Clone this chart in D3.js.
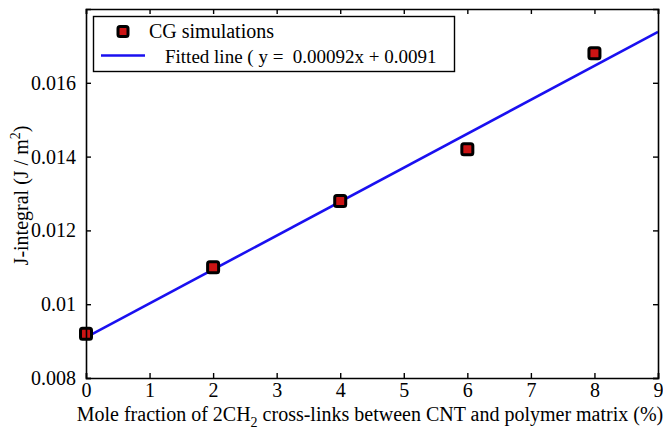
<!DOCTYPE html>
<html>
<head>
<meta charset="utf-8">
<script src="https://d3js.org/d3.v7.min.js"></script>
<style>
  body { margin: 0; background: #fff; }
  svg text { font-family: "Liberation Serif", "Times New Roman", serif; fill: #000; }
</style>
</head>
<body>
<div id="chart"></div>
<script>
// cross-link mole fraction (%) and J-integral from CG simulations
const crossLinks = [0, 2, 4, 6, 8];
const jIntegral = [0.0092, 0.011, 0.0128, 0.0142, 0.0168];

// linear fit y = slope * x + intercept
const fitSlope = 0.00092;
const fitIntercept = 0.0091;
const fitRange = [0, 9];

const xTicks = [0, 1, 2, 3, 4, 5, 6, 7, 8, 9];
const yTicks = [0.008, 0.01, 0.012, 0.014, 0.016];
const yTickLabels = ["0.008", "0.01", "0.012", "0.014", "0.016"];

const width = 663, height = 431;
const margin = {top: 9, right: 5, bottom: 53, left: 86};
const innerW = width - margin.left - margin.right;
const innerH = height - margin.top - margin.bottom;

const svg = d3.select('#chart').append('svg')
    .attr('width', width)
    .attr('height', height);

const g = svg.append('g')
    .attr('transform', `translate(${margin.left},${margin.top})`);

const x = d3.scaleLinear().domain([0, 9]).range([0, innerW]);
const y = d3.scaleLinear().domain([0.008, 0.018]).range([innerH, 0]);

// fitted line
const fitData = fitRange.map(v => ({x: v, y: fitSlope * v + fitIntercept}));
g.append('path')
    .datum(fitData)
    .attr('d', d3.line().x(d => x(d.x)).y(d => y(d.y)))
    .attr('fill', 'none')
    .attr('stroke', '#1a10f0')
    .attr('stroke-width', 2.6);

// simulation markers
g.selectAll('.pt')
    .data(crossLinks.map((v, i) => ({x: v, y: jIntegral[i]})))
    .enter().append('rect')
        .attr('class', 'pt')
        .attr('x', d => x(d.x) - 5.5)
        .attr('y', d => y(d.y) - 5.5)
        .attr('width', 11)
        .attr('height', 11)
        .attr('rx', 2)
        .attr('fill', '#cc1414')
        .attr('stroke', '#000')
        .attr('stroke-width', 3);

// axes, ticks pointing inward on all four sides
const tickLen = 5;
const bottomAxis = g.append('g')
    .attr('transform', `translate(0,${innerH})`)
    .call(d3.axisBottom(x).tickValues(xTicks).tickSize(-tickLen).tickPadding(5).tickFormat(d3.format('d')));
const topAxis = g.append('g')
    .call(d3.axisTop(x).tickValues(xTicks).tickSize(-tickLen).tickFormat(''));
const leftAxis = g.append('g')
    .call(d3.axisLeft(y).tickValues(yTicks).tickSize(-tickLen).tickPadding(10)
        .tickFormat((d, i) => yTickLabels[i]));
const rightAxis = g.append('g')
    .attr('transform', `translate(${innerW},0)`)
    .call(d3.axisRight(y).tickValues(yTicks).tickSize(-tickLen).tickFormat(''));

[bottomAxis, topAxis, leftAxis, rightAxis].forEach(a => {
    a.select('.domain').attr('stroke', '#000').attr('stroke-width', 1.6);
    a.selectAll('.tick line').attr('stroke', '#000').attr('stroke-width', 1.4);
    a.selectAll('text')
        .style('font-family', '"Liberation Serif", serif')
        .style('font-size', '20px')
        .attr('fill', '#000');
});
bottomAxis.selectAll('text').attr('dy', '0.71em');

// x axis title
const xTitle = svg.append('text')
    .attr('x', margin.left + innerW / 2 - 2)
    .attr('y', 421)
    .attr('text-anchor', 'middle')
    .style('font-size', '20px');
xTitle.append('tspan').text('Mole fraction of 2CH');
xTitle.append('tspan').attr('dy', 6).style('font-size', '14px').text('2');
xTitle.append('tspan').attr('dy', -6).text(' cross-links between CNT and polymer matrix (%)');

// y axis title
const yTitle = svg.append('text')
    .attr('transform', `translate(28,${margin.top + innerH / 2 + 2}) rotate(-90)`)
    .attr('text-anchor', 'middle')
    .style('font-size', '20px');
yTitle.append('tspan').text('J-integral (J / m');
yTitle.append('tspan').attr('dy', -8).style('font-size', '14px').text('2');
yTitle.append('tspan').attr('dy', 8).text(')');

// legend
const legend = svg.append('g');
legend.append('rect')
    .attr('x', 93.5).attr('y', 16.5)
    .attr('width', 361).attr('height', 55)
    .attr('fill', '#fff')
    .attr('stroke', '#000')
    .attr('stroke-width', 1.4);
legend.append('rect')
    .attr('x', 118).attr('y', 26.5)
    .attr('width', 10).attr('height', 10)
    .attr('rx', 2)
    .attr('fill', '#cc1414')
    .attr('stroke', '#000')
    .attr('stroke-width', 3);
legend.append('text')
    .attr('x', 149).attr('y', 38)
    .style('font-size', '20px')
    .text('CG simulations');
legend.append('line')
    .attr('x1', 101).attr('x2', 145)
    .attr('y1', 55.5).attr('y2', 55.5)
    .attr('stroke', '#1a10f0')
    .attr('stroke-width', 2.6);
legend.append('text')
    .attr('x', 165).attr('y', 63)
    .style('font-size', '19px')
    .style('white-space', 'pre')
    .text(`Fitted line ( y =  ${fitSlope}x + ${fitIntercept}`);
</script>
</body>
</html>
